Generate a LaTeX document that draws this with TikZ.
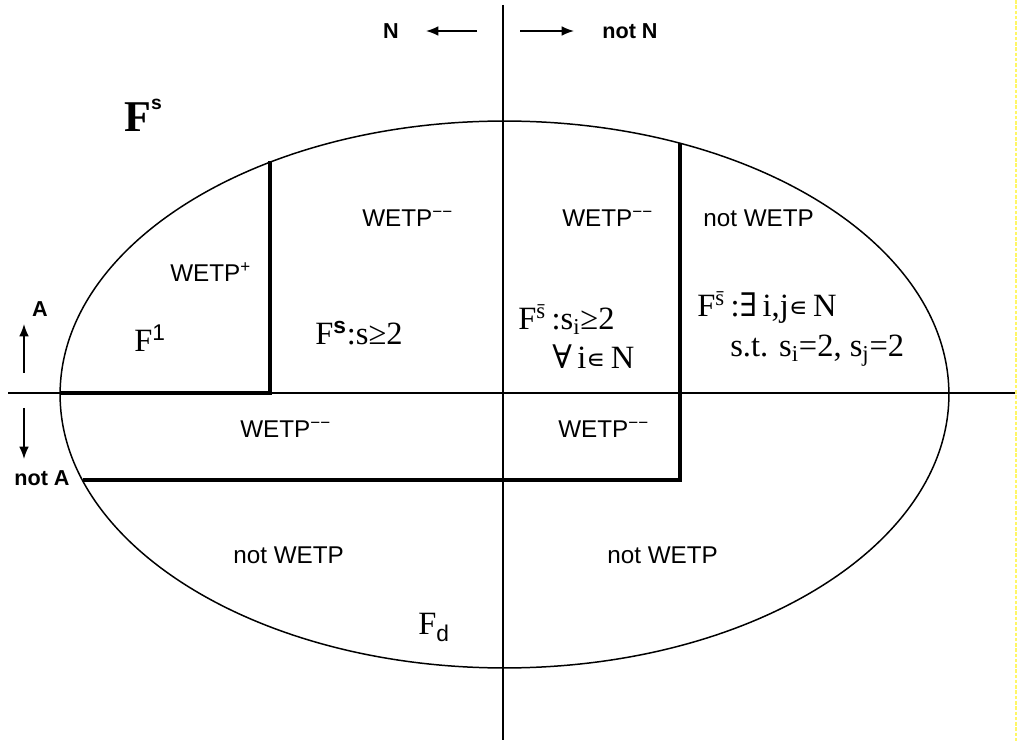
\documentclass[tikz,border=0pt]{standalone}
\usepackage{fontspec}
\setmainfont{Liberation Serif}
\setsansfont{Liberation Sans}
\newfontfamily\symf{DejaVu Serif}
\newfontfamily\symsans{DejaVu Sans}
\usetikzlibrary{arrows.meta}
\newcommand\ssup[1]{\textsuperscript{#1}}
\newcommand\mm{\textsuperscript{\sffamily −−}}
\newcommand\elem{{\symsans\fontsize{15}{18}\selectfont ∊}}
\begin{document}
\begin{tikzpicture}[x=0.02cm,y=-0.02cm,
  thinline/.style={line width=0.85pt},
  heavy/.style={line width=2.4pt},
  arr/.style={-{Latex[length=7pt,width=5.5pt]}, line width=0.85pt},
  sanslab/.style={font=\sffamily\fontsize{13.8}{16}\selectfont, inner sep=0, anchor=base west},
  serlab/.style={font=\fontsize{18.5}{22}\selectfont, inner sep=0, anchor=base west},
  dirlab/.style={font=\sffamily\bfseries\fontsize{12.3}{14}\selectfont, inner sep=0}]
\useasboundingbox (0,0) rectangle (1019,743);
% axes
\coordinate (vt) at (503,5);
\coordinate (vb) at (503,740);
\coordinate (hl) at (8,393);
\coordinate (hr) at (1016,393);
\draw[thinline] (vt) -- (vb);
\draw[thinline] (hl) -- (hr);
% ellipse
\draw[thinline] (504.5,394.5) ellipse [x radius=8.89cm, y radius=5.47cm];
% thick borders
\coordinate (a1) at (270,161.5);
\coordinate (a2) at (270,393);
\coordinate (a3) at (60.5,393);
\coordinate (b1) at (680,143);
\coordinate (b2) at (680,480);
\coordinate (b3) at (83,480);
\draw[heavy] (a1) -- (a2) -- (a3);
\draw[heavy] (b1) -- (b2) -- (b3);
% direction labels
\node[dirlab] (N) at (391,31) {N};
\node[dirlab] (notN) at (630,31) {not N};
\node[dirlab] (A) at (40,309) {A};
\node[dirlab] (notA) at (42,478) {not A};
\coordinate (la1) at (477,31);
\coordinate (la2) at (426,31);
\coordinate (ra1) at (520,31);
\coordinate (ra2) at (574,31);
\coordinate (ua1) at (24,373);
\coordinate (ua2) at (24,324);
\coordinate (da1) at (24,408);
\coordinate (da2) at (24,459);
\draw[arr] (la1) -- (la2);
\draw[arr] (ra1) -- (ra2);
\draw[arr] (ua1) -- (ua2);
\draw[arr] (da1) -- (da2);
% big title
\node[font=\bfseries\fontsize{25}{28}\selectfont, inner sep=0, anchor=base west] (Fs) at (124,132)
  {F\raisebox{13pt}{\sffamily\bfseries\fontsize{11}{12}\selectfont s}};
% sans labels
\node[sanslab] (w1) at (170,282) {WETP\ssup{+}};
\node[sanslab] (w2) at (362,227) {WETP\mm};
\node[sanslab] (w3) at (562,227) {WETP\mm};
\node[sanslab] (w4) at (703,227) {not WETP};
\node[sanslab] (w5) at (240,438) {WETP\mm};
\node[sanslab] (w6) at (558,438) {WETP\mm};
\node[sanslab] (w7) at (233,563) {not WETP};
\node[sanslab] (w8) at (607,563) {not WETP};
% serif formulas
\node[serlab] (f1) at (134,352) {F\ssup{\sffamily 1}};
\node[serlab] (f2) at (315,345) {F\ssup{\sffamily\bfseries s}:s≥2};
\node[serlab] (f3) at (518,330) {F\ssup{\=s}\,:s\textsubscript{i}≥2};
\node[serlab] (f4) at (552,369) {{\symf ∀}\,i\elem\,N};
\node[serlab] (f5) at (697,317) {F\ssup{\=s}\,:{\symf ∃}\,i,j\elem\,N};
\node[serlab] (f6) at (730,357) {s.t. s\textsubscript{i}=2, s\textsubscript{j}=2};
\node[serlab] (f7) at (418,635) {F\textsubscript{\sffamily d}};
% right edge marker
\coordinate (yt) at (1016,0);
\coordinate (yb) at (1016,743);
\draw[yellow!60, line width=0.8pt, dash pattern=on 2pt off 1pt] (yt) -- (yb);
\end{tikzpicture}
\end{document}
